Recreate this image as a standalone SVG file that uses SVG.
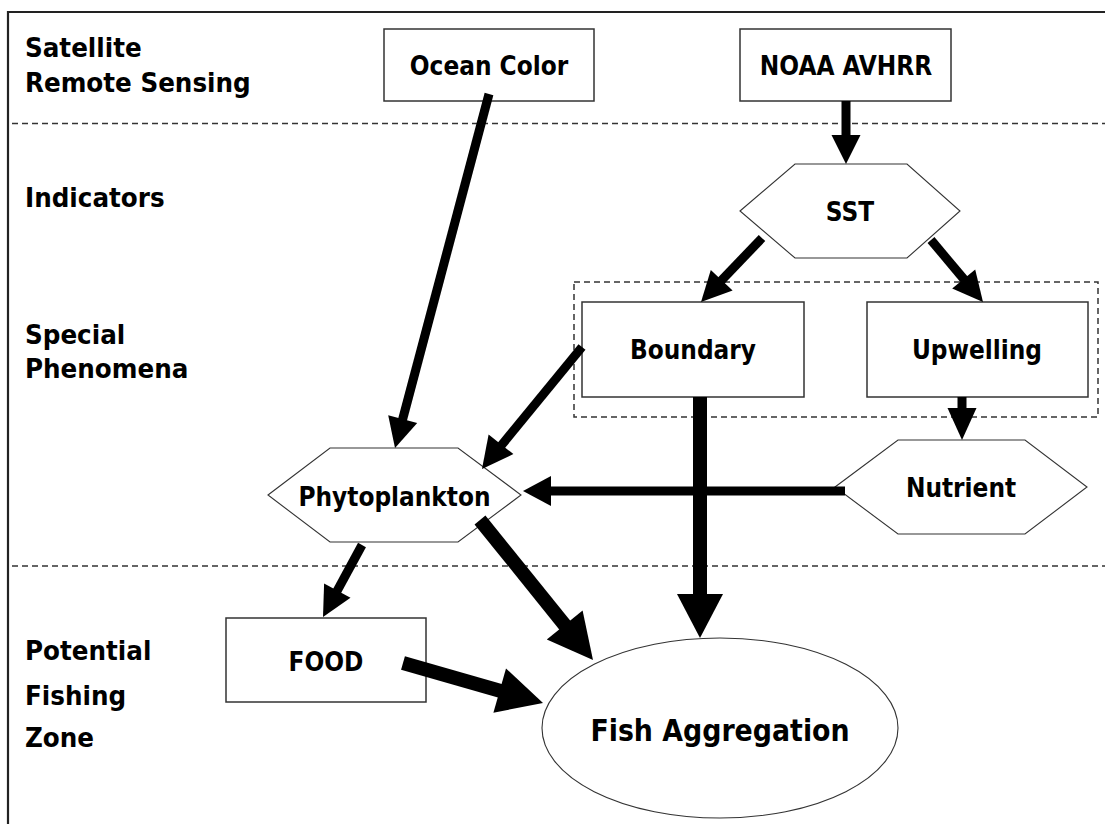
<svg xmlns="http://www.w3.org/2000/svg" width="1105" height="824" viewBox="0 0 1105 824">
<style>
.lbl{font-family:"DejaVu Sans Condensed","DejaVu Sans",sans-serif;font-weight:bold;font-size:27.4px;fill:#000}
.txt{font-family:"DejaVu Sans Condensed","DejaVu Sans",sans-serif;font-weight:bold;font-size:25.9px;fill:#000;text-anchor:middle}
.big{font-family:"DejaVu Sans Condensed","DejaVu Sans",sans-serif;font-weight:bold;font-size:29.8px;fill:#000;text-anchor:middle}
.box{fill:#fff;stroke:#333;stroke-width:1.5}
.hex{fill:#fff;stroke:#333;stroke-width:1.1}
.dash{fill:none;stroke:#333;stroke-width:1.5;stroke-dasharray:6 4}
.s9{stroke:#000;stroke-width:9;fill:none}
.s14{stroke:#000;stroke-width:14;fill:none}
.head{fill:#000}
</style>
<rect width="1105" height="824" fill="#fff"/>
<g id="frame">
<path d="M8 824 V12 H1105" fill="none" stroke="#222" stroke-width="2.2"/>
<line class="dash" x1="12" y1="123.5" x2="1105" y2="123.5"/>
<line class="dash" x1="12" y1="566" x2="1105" y2="566"/>
</g>
<g id="labels">
<text class="lbl" x="25" y="57">Satellite</text>
<text class="lbl" x="25" y="92">Remote Sensing</text>
<text class="lbl" x="25" y="207">Indicators</text>
<text class="lbl" x="25" y="344">Special</text>
<text class="lbl" x="25" y="378">Phenomena</text>
<text class="lbl" x="25" y="660">Potential</text>
<text class="lbl" x="25" y="705">Fishing</text>
<text class="lbl" x="25" y="747">Zone</text>
</g>
<g id="phenomena-group">
<rect class="dash" x="574" y="282" width="524" height="135"/>
</g>
<g id="ocean-color">
<rect class="box" x="384" y="29" width="210" height="72"/>
<text class="txt" x="489" y="75">Ocean Color</text>
</g>
<g id="noaa-avhrr">
<rect class="box" x="740" y="29" width="211" height="72"/>
<text class="txt" x="846" y="75">NOAA AVHRR</text>
</g>
<g id="sst">
<polygon class="hex" points="740,211 795,164 907,164 960,211 907,258 795,258"/>
<text class="txt" x="850" y="221">SST</text>
</g>
<g id="boundary">
<rect class="box" x="582" y="302" width="222" height="95"/>
<text class="txt" x="693" y="359">Boundary</text>
</g>
<g id="upwelling">
<rect class="box" x="867" y="302" width="221" height="95"/>
<text class="txt" x="977" y="359">Upwelling</text>
</g>
<g id="nutrient">
<polygon class="hex" points="835,487 898,440 1025,440 1087,487 1025,534 898,534"/>
<text class="txt" x="961" y="497">Nutrient</text>
</g>
<g id="phytoplankton">
<polygon class="hex" points="268,495 330,448 458,448 521,495 458,542 330,542"/>
<text class="txt" x="394.5" y="506">Phytoplankton</text>
</g>
<g id="food">
<rect class="box" x="226" y="618" width="200" height="84"/>
<text class="txt" x="326" y="671">FOOD</text>
</g>
<g id="fish-aggregation">
<ellipse class="hex" cx="720" cy="728" rx="178" ry="90"/>
<text class="big" x="720" y="741">Fish Aggregation</text>
</g>
<g id="connectors">
<line class="s9" x1="846" y1="101" x2="846" y2="137"/>
<polygon class="head" points="831.5,135 846,164 860.5,135"/>
<line class="s9" x1="762" y1="238" x2="720.3" y2="281.7"/>
<polygon class="head" points="710.8,270 701,302 732.6,290.6"/>
<line class="s9" x1="931" y1="240" x2="965" y2="280.5"/>
<polygon class="head" points="952.2,288.6 983,302 975.2,269.4"/>
<line class="s9" x1="489" y1="94" x2="402.3" y2="420.5"/>
<polygon class="head" points="388.2,415.2 395,448 417.2,422.9"/>
<line class="s9" x1="582" y1="347" x2="500" y2="447"/>
<polygon class="head" points="488.6,434.5 482,469 513.4,454.1"/>
<line class="s9" x1="845" y1="491" x2="549" y2="491"/>
<polygon class="head" points="551,476 523,491 551,506"/>
<line class="s9" x1="962" y1="397" x2="962" y2="410"/>
<polygon class="head" points="947.5,408 962,440 976.5,408"/>
<line class="s14" x1="700" y1="397" x2="700" y2="596"/>
<polygon class="head" points="677,594 700,638 723,594"/>
<line class="s14" x1="480" y1="520" x2="565.9" y2="626.5"/>
<polygon class="head" points="546.8,639.4 593,660 582.6,610.6"/>
<line class="s14" x1="403" y1="663" x2="501.6" y2="691.2"/>
<polygon class="head" points="493.4,712.7 543,703 506,668.5"/>
<line class="s9" x1="362" y1="545" x2="336.3" y2="592.4"/>
<polygon class="head" points="324.1,583.5 323,617 350.5,597.7"/>
</g>
</svg>
